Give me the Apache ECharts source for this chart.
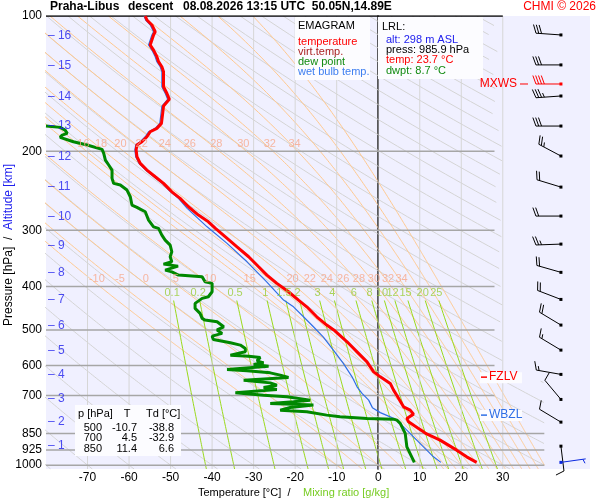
<!DOCTYPE html>
<html>
<head>
<meta charset="utf-8">
<title>Emagram Praha-Libus</title>
<script src="https://cdn.jsdelivr.net/npm/echarts@6/dist/echarts.min.js"></script>
<style>
html, body { margin: 0; padding: 0; background: #fff; }
#main { width: 600px; height: 500px; }
</style>
</head>
<body>
<div id="main"></div>
<script>
var FONT = 'Liberation Sans, Arial, sans-serif';

// profil teploty [hPa, °C]
var tempProfile = [
  [100, -56.1], [102.1, -55.7], [104.7, -54.5], [108.4, -53.7], [110.2, -54.1], [113.1, -54.5],
  [116.0, -54.9], [119.1, -54.1], [123.2, -53.3], [126.4, -52.9], [129.7, -52.1], [133.1, -51.7],
  [138.8, -51.7], [143.7, -51.7], [148.6, -50.9], [153.3, -50.3], [158.7, -51.7], [164.7, -51.9],
  [173.4, -52.2], [177.9, -53.3], [181.0, -54.9], [185.7, -55.7], [190.5, -56.9], [193.8, -58.1],
  [198.8, -58.3], [205.8, -58.1], [212.9, -57.3], [220.3, -55.7], [228.0, -53.7], [235.9, -51.7],
  [246.3, -49.7], [254.7, -47.7], [265.9, -45.7], [277.5, -43.3], [287.2, -40.9], [297.1, -39.2],
  [310.2, -36.8], [326.5, -34.0], [343.6, -31.2], [361.7, -28.8], [377.4, -26.8], [393.8, -24.4],
  [411.1, -21.6], [429.0, -19.2], [444.1, -17.2], [467.4, -14.8], [487.7, -12.4], [500, -10.7],
  [531.4, -7.5], [559.4, -5.1], [588.9, -2.7], [619.8, -1.1], [635.9, 0.5], [657.8, 2.9],
  [680.8, 3.7], [700, 4.5], [741.6, 6.1], [754.3, 7.7], [769.9, 8.5], [787.0, 6.9],
  [800.9, 7.3], [828.4, 9.7], [843.0, 10.9], [850, 11.4], [879.7, 14.9], [926.0, 18.9],
  [958.3, 21.3], [985.9, 23.7]
];

// vlhky teplomer [hPa, °C]
var wetBulbProfile = [
  [100, -56.4], [102.1, -56.0], [104.7, -54.9], [108.4, -54.1], [110.2, -54.5], [113.1, -54.9],
  [116.0, -55.3], [119.1, -54.5], [123.2, -53.7], [126.4, -53.3], [129.7, -52.5], [133.1, -52.1],
  [138.8, -52.1], [143.7, -52.1], [148.6, -51.3], [153.3, -50.7], [158.7, -52.1], [164.7, -52.3],
  [173.4, -52.6], [177.9, -53.7], [181.0, -55.3], [185.7, -56.1], [190.5, -57.3], [193.8, -58.4],
  [198.8, -58.6], [205.8, -58.4], [212.9, -57.6], [220.3, -56.0], [228.0, -54.0], [235.9, -52.0],
  [246.3, -50.0], [254.7, -48.1], [268.1, -46.0], [294.7, -41.2], [320.8, -36.4], [352.6, -31.6],
  [391.2, -26.8], [429.0, -22.8], [444.1, -20.4], [467.4, -18.0], [492.0, -15.6], [518.8, -13.2],
  [554.5, -10.8], [593.7, -8.4], [635.9, -6.3], [669.4, -5.1], [692.4, -3.9], [716.6, -2.3],
  [744.7, -1.4], [764.0, 0.5], [780.6, 2.9], [794.0, 4.5], [821.6, 6.1], [864.9, 8.5],
  [910.5, 10.9], [958.3, 13.3], [985.9, 15.1]
];

// rosny bod [hPa, °C]
var dewProfile = [
  [175.8, -80], [177.0, -76.6], [179.5, -75.4], [182.5, -74.9], [184.1, -76.1], [186.3, -76.6],
  [190.5, -73.4], [193.8, -70.1], [198.1, -66.5], [202.2, -66.1], [209.3, -65.7], [214.7, -64.9],
  [220.3, -64.1], [229.9, -64.1], [235.9, -63.7], [237.9, -62.1], [244.1, -60.5], [252.6, -59.7],
  [263.6, -59.3], [266.7, -58.1], [272.8, -56.1], [284.7, -55.3], [294.7, -54.1], [297.1, -52.9],
  [307.5, -52.1], [315.5, -51.3], [323.6, -50.1], [334.9, -49.7], [343.6, -50.1], [352.6, -49.7],
  [356.8, -51.7], [360.5, -48.2], [367.9, -51.3], [371.2, -49.7], [377.4, -48.1], [380.8, -42.4],
  [390.6, -41.7], [393.8, -40.0], [411.1, -40.0], [421.8, -40.9], [425.3, -42.4], [436.4, -44.1],
  [447.7, -44.1], [459.3, -42.9], [471.3, -42.4], [475.4, -41.7], [479.6, -38.8], [492.0, -37.2],
  [500, -38.8], [509.0, -37.6], [516.1, -40.0], [524.9, -39.7], [534.1, -35.6], [540.4, -33.2],
  [549.7, -32.0], [559.4, -32.0], [569.0, -35.6], [571.9, -31.2], [575.7, -28.4], [585.9, -29.2],
  [591.9, -27.6], [596.8, -30.0], [602.0, -26.4], [612.3, -36.4], [616.7, -31.6], [623.1, -26.0],
  [630.4, -23.6], [637.9, -21.6], [646.8, -32.4], [655.9, -26.0], [663.6, -24.4], [671.4, -27.6],
  [678.3, -24.4], [690.3, -34.4], [698.5, -27.6], [704.6, -22.0], [716.6, -16.4], [722.8, -20.4],
  [728.8, -26.0], [735.1, -15.6], [743.9, -21.2], [754.3, -23.6], [760.9, -17.2], [773.8, -12.4],
  [780.6, -9.2], [787.0, -2.7], [790.0, 3.7], [794.0, 4.5], [807.5, 5.3], [850.0, 6.5],
  [910.5, 6.9], [985.9, 8.7]
];

// vitr [hPa, smer °, rychlost]
var windLevels = [
  [110.2, 274, 30], [128.5, 270, 30], [141.7, 270, 40], [150.7, 266, 35], [175.8, 270, 30],
  [205.0, 298, 25], [240.4, 287, 20], [278.9, 270, 20], [322.0, 268, 25], [372.2, 286, 20],
  [427.6, 291, 20], [487.7, 301, 20], [554.5, 301, 15], [628.0, 280, 15], [714.0, 320, 10],
  [802.1, 301, 10], [907.3, 173, 10], [985.9, 82, 5]
];
var maxWindPres = 141.7;
var surfacePres = 985.9;

// hladiny: max. vitr, nulova izoterma, nula vlhkeho teplomeru
var levelNames = ['MXWS', 'FZLV', 'WBZL'];
var levelPres = [141.7, 636.9, 773.8];

var pressureTicks = [100, 200, 300, 400, 500, 600, 700, 850, 925, 1000];
var isobars = [200, 300, 400, 500, 600, 700, 850, 925, 1000];
var isotherms = [-70, -60, -50, -40, -30, -20, -10, 0, 10, 20, 30];
var altitudeKm = [1, 2, 3, 4, 5, 6, 7, 8, 9, 10, 11, 12, 13, 14, 15, 16];
var altitudePres = [907.3, 802.0, 712.8, 630.4, 557.5, 490.2, 429.0, 373.6, 325.3, 280.4, 240.4, 206.1, 175.8, 151.5, 129.2, 110.8];
var thetaW = [-10, -5, 0, 5, 10, 15, 16, 18, 20, 22, 24, 26, 28, 30, 32, 34, 36, 38, 40];
var thetaWLabel200 = [16, 18, 20, 22, 24, 26, 28, 30, 32, 34];
var thetaWLabel400 = [-10, -5, 0, 5, 10, 15, 20, 22, 24, 26, 28, 30, 32, 34];
var mixingRatios = [0.1, 0.2, 0.5, 1, 1.5, 2, 3, 4, 6, 8, 10, 12, 15, 20, 25];

var tableHead = ['p [hPa]', 'T', 'Td [°C]'];
var tableRows = [['500', '-10.7', '-38.8'], ['700', '4.5', '-32.9'], ['850', '11.4', '6.6']];

var xBarb = 44;   // sloupec praporku v souradnicich osy x

// ---- pomocne vypocty pozadi diagramu ----
function satVap(tc) { return 6.112 * Math.exp(17.67 * tc / (tc + 243.5)); }
function moistLapse(p, tk) {
  var es = satVap(tk - 273.15), rs = 0.622 * es / (p - es);
  return (287.04 * tk + 2.501e6 * rs) /
    (p * (1005.7 + 2.501e6 * 2.501e6 * rs * 0.622 / (287.04 * tk * tk)));
}
function tMax(p) { return p < 650 ? 30 : 40; }
function segments(pts) {
  var out = [], cur = [];
  pts.forEach(function (d) {
    if (d[0] >= -90 && d[0] <= tMax(d[1])) { cur.push(d); }
    else if (cur.length) { if (cur.length > 1) out.push(cur); cur = []; }
  });
  if (cur.length > 1) out.push(cur);
  return out;
}
function moistCurve(tw) {
  var up = [], down = [], t, p, k1, k2;
  t = tw + 273.15; p = 1000;
  up.push([tw, 1000]);
  while (p > 100) {
    k1 = moistLapse(p, t); k2 = moistLapse(p - 1, t - k1);
    t -= 2 * k2; p -= 2; up.push([t - 273.15, p]);
  }
  t = tw + 273.15; p = 1000;
  while (p < 1020) {
    k1 = moistLapse(p, t); k2 = moistLapse(p + 1, t + k1);
    t += 2 * k2; p += 2; down.unshift([t - 273.15, p]);
  }
  return down.concat(up);
}
function tAt(curve, p) {
  for (var i = 1; i < curve.length; i++) {
    var a = curve[i - 1], b = curve[i];
    if ((a[1] - p) * (b[1] - p) <= 0) {
      return a[0] + (b[0] - a[0]) * (p - a[1]) / (b[1] - a[1]);
    }
  }
  return null;
}
function dewFromMix(w, p) {
  var e = w * p / (622 + w), l = Math.log(e / 6.112);
  return 243.5 * l / (17.67 - l);
}

var dryLines = [];
for (var th = -80; th <= 330; th += 10) {
  var pts = [];
  for (var p = 1020; p >= 100; p -= 5) {
    pts.push([(th + 273.15) * Math.pow(p / 1000, 0.2857) - 273.15, p]);
  }
  segments(pts).forEach(function (s) { dryLines.push({ coords: s }); });
}

var moistLines = [], moistCurves = {};
thetaW.forEach(function (tw) {
  var c = moistCurve(tw);
  moistCurves[tw] = c;
  segments(c).forEach(function (s) { moistLines.push({ coords: s }); });
});

var mixLines = mixingRatios.map(function (w) {
  var pts = [];
  for (var p = 1020; p >= 430; p -= 10) pts.push([dewFromMix(w, p), p]);
  return { coords: pts };
});

var isothermLines = isotherms.map(function (t) {
  return {
    coords: [[t, 1020], [t, 100]],
    lineStyle: { color: t === 0 ? '#9a9a9a' : '#d6d6d6', width: 1 }
  };
});
var isobarLines = isobars.map(function (p) {
  return { coords: [[-80, p], [p <= 700 ? 28 : 40, p]] };
});

var moistLabels = [];
thetaWLabel200.forEach(function (tw) {
  var t = tAt(moistCurves[tw], 200);
  if (t !== null && t > -79) moistLabels.push([t, 200, tw]);
});
thetaWLabel400.forEach(function (tw) {
  var t = tAt(moistCurves[tw], 400);
  if (t !== null && t > -79) moistLabels.push([t, 400, tw]);
});

var mixLabels = mixingRatios.map(function (w) { return [dewFromMix(w, 413), 413, w]; });
var altLabels = altitudePres.map(function (p, i) { return [-79.9, p, altitudeKm[i]]; });

function bgLines(name, data, color, width, z) {
  return {
    name: name, type: 'lines', coordinateSystem: 'cartesian2d', polyline: true,
    silent: true, z: z, data: data,
    lineStyle: { color: color, width: width, opacity: 1 }
  };
}
function profile(name, data, color, width, z) {
  return {
    name: name, type: 'line', showSymbol: false, symbol: 'none', silent: true, z: z,
    data: data.map(function (d) { return [d[1], d[0]]; }),
    lineStyle: { color: color, width: width }
  };
}
function labelSet(data, color, size, fmt, pos, offset) {
  return {
    type: 'scatter', data: data, symbolSize: 1, silent: true, z: 6,
    itemStyle: { color: 'rgba(0,0,0,0)' },
    label: {
      show: true, position: pos, distance: 1, offset: offset || [0, 0],
      color: color, fontSize: size, fontFamily: FONT,
      formatter: fmt
    }
  };
}

var myChart = echarts.init(document.getElementById('main'));

myChart.setOption({
  animation: false,
  textStyle: { fontFamily: FONT },
  grid: { left: 46, right: 10, top: 16, bottom: 31, show: true, backgroundColor: '#f0f0ff', borderWidth: 0 },
  xAxis: {
    type: 'value', min: -80, max: 51, interval: 10,
    axisLine: { show: false }, axisTick: { show: false }, splitLine: { show: false },
    axisLabel: {
      color: '#000', fontSize: 12, margin: 3,
      formatter: function (v) { return (v < -70 || v > 30) ? '' : String(v); }
    }
  },
  yAxis: {
    type: 'log', logBase: 10, min: 100, max: 1020, inverse: true,
    axisLine: { show: true, lineStyle: { color: '#000', width: 1.5 } },
    axisTick: { show: false }, splitLine: { show: false }, minorTick: { show: false },
    axisLabel: {
      customValues: pressureTicks, color: '#000', fontSize: 12, margin: 4,
      formatter: function (v) { return String(Math.round(v)); }
    }
  },
  series: [
    bgLines('dry', dryLines, '#d4d4d4', 1, 1),
    bgLines('moist', moistLines, '#ffc88e', 1, 1),
    bgLines('mix', mixLines, '#9ad91c', 1, 2),
    bgLines('isotherm', isothermLines, '#d6d6d6', 1, 2),
    bgLines('isobar', isobarLines, '#a6a6a6', 1.5, 3),
    bgLines('frame', [{ coords: [[-80, 100], [30, 100]] }], '#000', 1.5, 3),
    profile('wet bulb', wetBulbProfile, '#2f6fe6', 1.2, 4),
    profile('temperature', tempProfile, '#ff0000', 3, 5),
    profile('dew point', dewProfile, '#008800', 3, 5),
    labelSet(moistLabels, '#f7a889', 11, function (d) { return d.value[2]; }, 'inside', [-3, -7]),
    labelSet(mixLabels, '#99cc33', 11, function (d) { return d.value[2]; }, 'inside'),
    labelSet(altLabels, '#2020ee', 12, function (d) { return '– ' + d.value[2]; }, 'right'),
    {
      name: 'wind', type: 'custom', coordinateSystem: 'cartesian2d', clip: false, silent: true, z: 7,
      data: windLevels.map(function (w) { return [xBarb, w[0], w[1], w[2]]; }),
      renderItem: function (params, api) {
        var pt = api.coord([api.value(0), api.value(1)]);
        var pres = api.value(1);
        var color = pres === maxWindPres ? '#ff0000' : (pres === surfacePres ? '#0a28e0' : '#000');
        var dir = api.value(2) * Math.PI / 180, spd = api.value(3);
        var ux = Math.sin(dir), uy = -Math.cos(dir);
        var px = -uy, py = ux;
        var tx = px * 0.94 + ux * 0.34, ty = py * 0.94 + uy * 0.34;
        var L = 25, tl = 9, gap = 2.8;
        var ex = pt[0] + ux * L, ey = pt[1] + uy * L;
        var kids = [
          { type: 'line', shape: { x1: pt[0], y1: pt[1], x2: ex, y2: ey }, style: { stroke: color, lineWidth: 1 } },
          { type: 'rect', shape: { x: pt[0] - 1.5, y: pt[1] - 1.5, width: 3, height: 3 }, style: { fill: color } }
        ];
        var full = Math.floor(spd / 10), half = (spd % 10) >= 5, pos = 0;
        for (var i = 0; i < full; i++) {
          var bx = ex - ux * pos, by = ey - uy * pos;
          kids.push({ type: 'line', shape: { x1: bx, y1: by, x2: bx + tx * tl, y2: by + ty * tl }, style: { stroke: color, lineWidth: 1 } });
          pos += gap;
        }
        if (half) {
          if (full === 0) pos = gap;
          var hx = ex - ux * pos, hy = ey - uy * pos;
          kids.push({ type: 'line', shape: { x1: hx, y1: hy, x2: hx + tx * tl / 2, y2: hy + ty * tl / 2 }, style: { stroke: color, lineWidth: 1 } });
        }
        return { type: 'group', children: kids };
      }
    }
  ]
});

// texty a popisky
function txt(x, y, text, color, size, opts) {
  opts = opts || {};
  return {
    type: 'text', x: x, y: y, z: 100, rotation: opts.rotation || 0,
    style: {
      text: text, fill: color, font: (opts.bold ? 'bold ' : '') + size + 'px ' + FONT,
      textAlign: opts.align || 'left', textVerticalAlign: 'middle', rich: opts.rich
    }
  };
}
function box(x, y, w, h) {
  return { type: 'rect', z: 99, shape: { x: x, y: y, width: w, height: h }, style: { fill: '#fcfcff' } };
}

var gfx = [
  txt(50, 7, 'Praha-Libus', '#000', 12, { bold: true }),
  txt(128, 7, 'descent', '#000', 12, { bold: true }),
  txt(183, 7, '08.08.2026 13:15 UTC  50.05N,14.89E', '#000', 12, { bold: true }),
  txt(596, 7, 'CHMI © 2026', '#ff0000', 12, { align: 'right' }),

  box(295, 17, 75, 63),
  txt(298, 26, 'EMAGRAM', '#000', 11),
  txt(298, 42, 'temperature', '#ff0000', 11),
  txt(298, 52, 'virt.temp.', '#aa2222', 11),
  txt(298, 62, 'dew point', '#108a10', 11),
  txt(298, 72, 'wet bulb temp.', '#3d7ef0', 11),

  box(378, 17, 105, 62),
  txt(382, 27, 'LRL:', '#000', 11),
  txt(386, 40, 'alt: 298 m ASL', '#2020ee', 11),
  txt(386, 50, 'press: 985.9 hPa', '#000', 11),
  txt(386, 60, 'temp: 23.7 °C', '#ff0000', 11),
  txt(386, 71, 'dwpt: 8.7 °C', '#108a10', 11),

  box(75, 405, 106, 51),
  txt(78, 414, tableHead[0], '#000', 11),
  txt(127, 414, tableHead[1], '#000', 11, { align: 'center' }),
  txt(146, 414, tableHead[2], '#000', 11),

  txt(198, 493, 'Temperature [°C]  /', '#000', 11),
  txt(303, 493, 'Mixing ratio [g/kg]', '#77cc22', 11),
  {
    type: 'text', x: 9, y: 245, z: 100, rotation: Math.PI / 2,
    style: {
      text: '{a|Pressure [hPa]  /  }{b|Altitude [km]}', font: '12px ' + FONT,
      textAlign: 'center', textVerticalAlign: 'middle',
      rich: { a: { fill: '#000', font: '12px ' + FONT }, b: { fill: '#2020ee', font: '12px ' + FONT } }
    }
  }
];
tableRows.forEach(function (r, i) {
  var y = 428 + i * 10.3;
  gfx.push(txt(102, y, r[0], '#000', 11, { align: 'right' }));
  gfx.push(txt(137, y, r[1], '#000', 11, { align: 'right' }));
  gfx.push(txt(174, y, r[2], '#000', 11, { align: 'right' }));
});

// hladiny MXWS / FZLV / WBZL
levelNames.forEach(function (name, i) {
  var yy = myChart.convertToPixel({ gridIndex: 0 }, [0, levelPres[i]])[1];
  if (name === 'MXWS') {
    gfx.push(txt(517, yy, name, '#ff0000', 12, { align: 'right' }));
    gfx.push({ type: 'line', z: 100, shape: { x1: 520, y1: yy, x2: 528, y2: yy }, style: { stroke: '#ff0000', lineWidth: 1 } });
  } else {
    var c = name === 'FZLV' ? '#ff0000' : '#2f6fe6';
    gfx.push(box(480, yy - 5, 42, 11));
    gfx.push({ type: 'line', z: 100, shape: { x1: 481, y1: yy, x2: 487, y2: yy }, style: { stroke: c, lineWidth: 1.5 } });
    gfx.push(txt(489, yy, name, c, 12));
  }
});

myChart.setOption({ graphic: gfx });
</script>
</body>
</html>
